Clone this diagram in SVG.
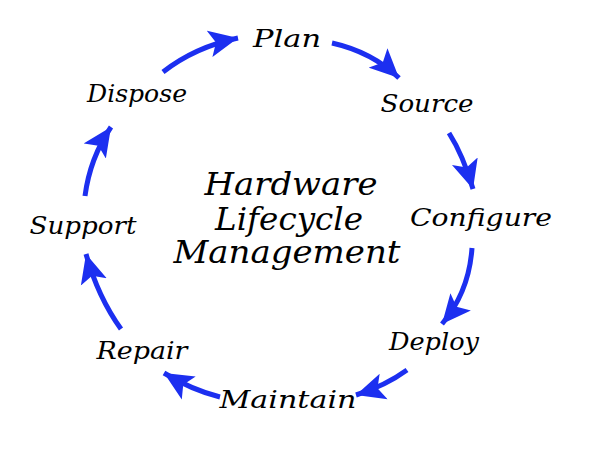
<svg xmlns="http://www.w3.org/2000/svg" width="600" height="456" viewBox="0 0 600 456">
<style>
.lbl{font-family:"DejaVu Serif","Liberation Serif",serif;font-style:italic;font-size:25px;fill:#000;text-anchor:middle}
.ctr{font-family:"DejaVu Serif","Liberation Serif",serif;font-style:italic;font-size:31px;fill:#000;text-anchor:middle}
.arr{fill:none;stroke:#1c2ff0;stroke-width:5;marker-end:url(#ah)}
</style>
<defs>
<marker id="ah" markerUnits="userSpaceOnUse" markerWidth="30" markerHeight="28" refX="27" refY="12.5" orient="auto" viewBox="0 0 28 25">
<path d="M0,0 L27,12.5 L0,25 L6,12.5 z" fill="#1c2ff0"/>
</marker>
</defs>
<rect width="600" height="456" fill="#fff"/>
<g id="connectors">
<path class="arr" d="M163,72 Q195,47 238,38"/>
<path class="arr" d="M332,43 Q372,52 399,78"/>
<path class="arr" d="M449,133 Q463,155 473,189"/>
<path class="arr" d="M472,248 Q469,292 442,324"/>
<path class="arr" d="M407,370 Q385,386 356,395"/>
<path class="arr" d="M220,397 Q192,390 164,373"/>
<path class="arr" d="M121,329 Q98,297 86,254"/>
<path class="arr" d="M85,196 Q90,158 111,127"/>
</g>
<g id="center"><text class="ctr" x="291" y="195" textLength="173" lengthAdjust="spacingAndGlyphs">Hardware</text><text class="ctr" x="289" y="230" textLength="148" lengthAdjust="spacingAndGlyphs">Lifecycle</text><text class="ctr" x="287" y="263" textLength="227" lengthAdjust="spacingAndGlyphs">Management</text></g>
<g id="plan"><text class="lbl" x="287" y="47" textLength="68" lengthAdjust="spacingAndGlyphs">Plan</text></g>
<g id="source"><text class="lbl" x="427" y="112" textLength="93" lengthAdjust="spacingAndGlyphs">Source</text></g>
<g id="configure"><text class="lbl" x="481" y="226" textLength="142" lengthAdjust="spacingAndGlyphs">Configure</text></g>
<g id="deploy"><text class="lbl" x="434" y="350" textLength="90" lengthAdjust="spacingAndGlyphs">Deploy</text></g>
<g id="maintain"><text class="lbl" x="288" y="408" textLength="137" lengthAdjust="spacingAndGlyphs">Maintain</text></g>
<g id="repair"><text class="lbl" x="142" y="359" textLength="91" lengthAdjust="spacingAndGlyphs">Repair</text></g>
<g id="support"><text class="lbl" x="83" y="234" textLength="107" lengthAdjust="spacingAndGlyphs">Support</text></g>
<g id="dispose"><text class="lbl" x="137" y="102" textLength="100" lengthAdjust="spacingAndGlyphs">Dispose</text></g>
</svg>
